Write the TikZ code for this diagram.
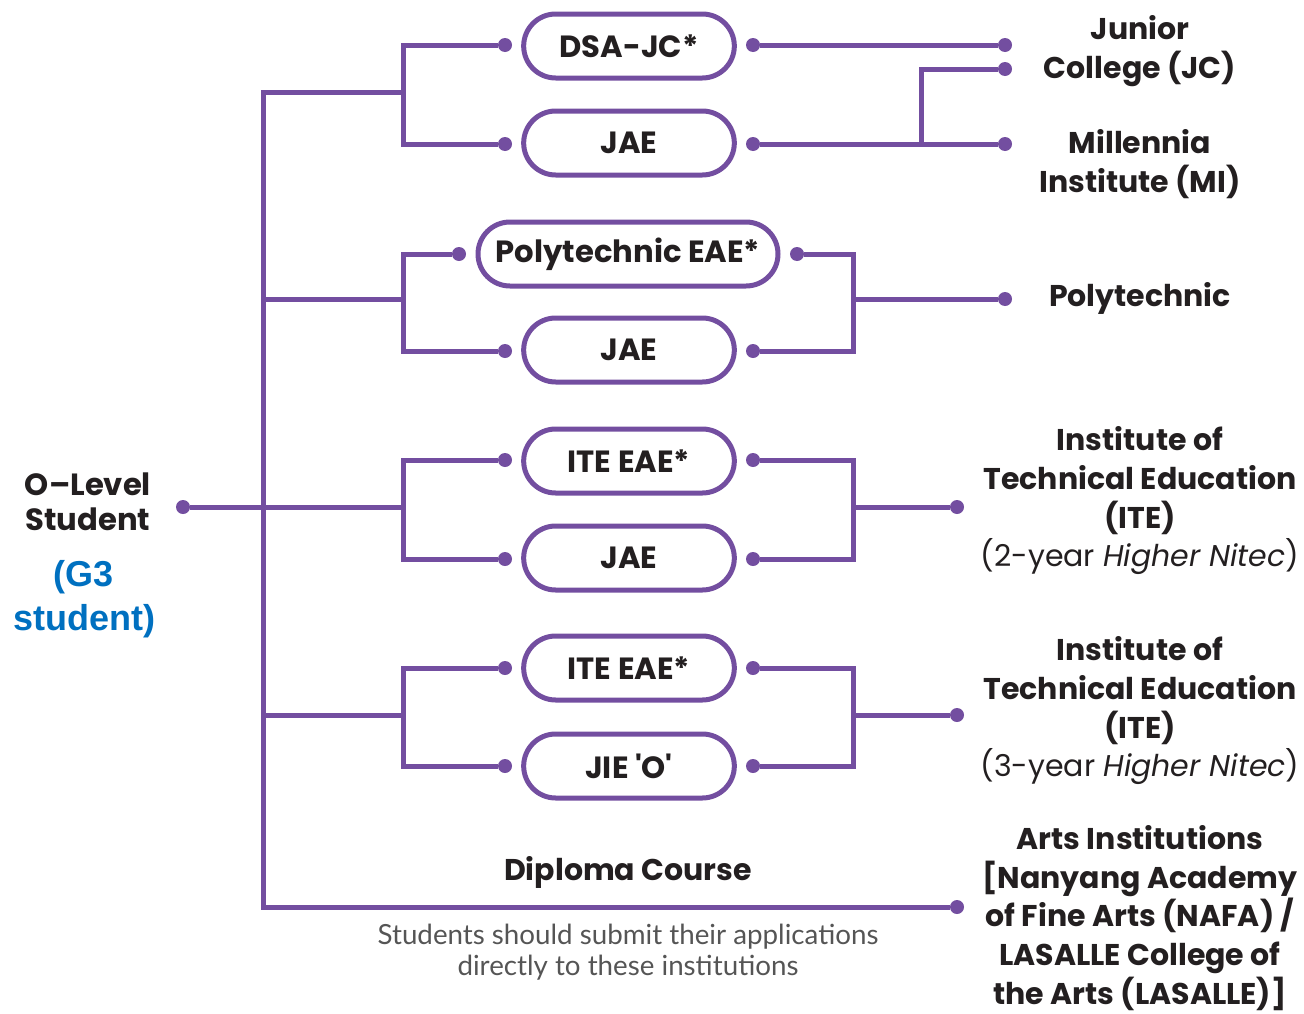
\documentclass[tikz,border=0pt]{standalone}
\usepackage{fontspec}
\setmainfont{Poppins}
\newfontfamily\arialfont{Liberation Sans}
\newfontfamily\notefont{Lato}
\usetikzlibrary{shapes.misc}
\definecolor{olpurple}{RGB}{115,78,160}
\definecolor{olblue}{RGB}{0,112,192}
\definecolor{olblack}{RGB}{35,31,32}
\definecolor{olgray}{RGB}{85,85,85}
\tikzset{
	dot/.style = {circle, fill=olpurple, minimum size=#1,
		inner sep=0pt, outer sep=0pt},
	dot/.default = 10.5pt,
	link/.style = {draw=olpurple, line width=3.75pt},
	pill/.style = {rounded rectangle, draw=olpurple, line width=3.75pt,
		minimum width=#1, minimum height=48pt, inner sep=0pt, text=olblack,
		font=\fontsize{23}{25}\selectfont\bfseries},
	pill/.default = 158pt,
	dest/.style = {align=center, text=olblack,
		font=\fontsize{22.5}{29}\selectfont\bfseries}
}

\begin{document}
\begin{tikzpicture}[x=0.75pt, y=-0.75pt]
\useasboundingbox (0,0) rectangle (1304,1014);

% options
\node[pill] (dsa) at (629,46) {DSA-JC*};
\node[pill] (jaea) at (629,143) {JAE};
\node[pill=225pt] (poly) at (628,254) {Polytechnic EAE*};
\node[pill] (jaeb) at (629,350) {JAE};
\node[pill] (itea) at (629,461) {ITE EAE*};
\node[pill] (jaec) at (629,558) {JAE};
\node[pill] (iteb) at (629,668) {ITE EAE*};
\node[pill] (jie) at (629,766) {JIE \textquotesingle O\textquotesingle};

\node[dot] (dsaL) at (505,45) {};
\node[dot] (jaeaL) at (505,144) {};
\node[dot] (polyL) at (459,254) {};
\node[dot] (jaebL) at (505,351) {};
\node[dot] (iteaL) at (505,460) {};
\node[dot] (jaecL) at (505,559) {};
\node[dot] (itebL) at (505,668) {};
\node[dot] (jieL) at (505,766) {};

\node[dot] (dsaR) at (753,45) {};
\node[dot] (jaeaR) at (753,144) {};
\node[dot] (polyR) at (797,254) {};
\node[dot] (jaebR) at (753,351) {};
\node[dot] (iteaR) at (753,460) {};
\node[dot] (jaecR) at (753,559) {};
\node[dot] (itebR) at (753,668) {};
\node[dot] (jieR) at (753,766) {};

% destinations
\node[dot] (stu) at (183,507) {};
\node[dot] (jcA) at (1005,45) {};
\node[dot] (jcB) at (1005,69) {};
\node[dot] (mi) at (1005,144) {};
\node[dot] (polyD) at (1005,299) {};
\node[dot] (iteD) at (957,507) {};
\node[dot] (iteE) at (957,715) {};
\node[dot] (artsD) at (957,907) {};

\coordinate (trunkT) at (263,92);
\coordinate (trunkB) at (263,907);
\coordinate (g1) at (403,92);
\coordinate (g2) at (403,299);
\coordinate (g3) at (403,507);
\coordinate (g4) at (403,715);
\coordinate (fork) at (921,144);
\coordinate (h2) at (853,299);
\coordinate (h3) at (853,507);
\coordinate (h4) at (853,715);

\draw[link] (g1) -- (trunkT) -- (trunkB) -- (artsD);
\draw[link] (stu) -- (g3);
\draw[link] (g2 -| trunkT) -- (g2);
\draw[link] (g4 -| trunkT) -- (g4);

\draw[link] (dsaL) -| (g1) |- (jaeaL);
\draw[link] (polyL) -| (g2) |- (jaebL);
\draw[link] (iteaL) -| (g3) |- (jaecL);
\draw[link] (itebL) -| (g4) |- (jieL);

\draw[link] (dsaR) -- (jcA);
\draw[link] (jaeaR) -- (mi);
\draw[link] (fork) |- (jcB);
\draw[link] (polyR) -| (h2) |- (jaebR);
\draw[link] (h2) -- (polyD);
\draw[link] (iteaR) -| (h3) |- (jaecR);
\draw[link] (h3) -- (iteD);
\draw[link] (itebR) -| (h4) |- (jieR);
\draw[link] (h4) -- (iteE);

% labels
\node[align=center, text=olblack, font=\fontsize{23}{26}\selectfont\bfseries]
	(olevel) at (88,502) {O--Level\\Student};
\node[align=center, text=olblue, font=\arialfont\fontsize{27}{33}\selectfont\bfseries]
	(g3st) at (84,599) {(G3\\student)};
\node[dest] (jc) at (1140,51) {Junior\\College (JC)};
\node[dest] (miT) at (1140,164) {Millennia\\Institute (MI)};
\node[dest] (polyT) at (1140,298) {Polytechnic};
\node[dest] (iteT) at (1140,501) {Institute of\\Technical Education\\(ITE)\\
	\mdseries(2-year \textit{Higher Nitec})};
\node[dest] (iteU) at (1140,711) {Institute of\\Technical Education\\(ITE)\\
	\mdseries(3-year \textit{Higher Nitec})};
\node[dest] (arts) at (1140,918) {Arts Institutions\\{[}Nanyang Academy\\
	of Fine Arts (NAFA) /\\LASALLE College of\\the Arts (LASALLE)]};
\node[dest] (dip) at (628,872) {Diploma Course};
\node[align=center, text=olgray, font=\notefont\fontsize{20.8}{23.5}\selectfont]
	(note) at (628,952) {Students should submit their applications\\
	directly to these institutions};
\end{tikzpicture}
\end{document}
